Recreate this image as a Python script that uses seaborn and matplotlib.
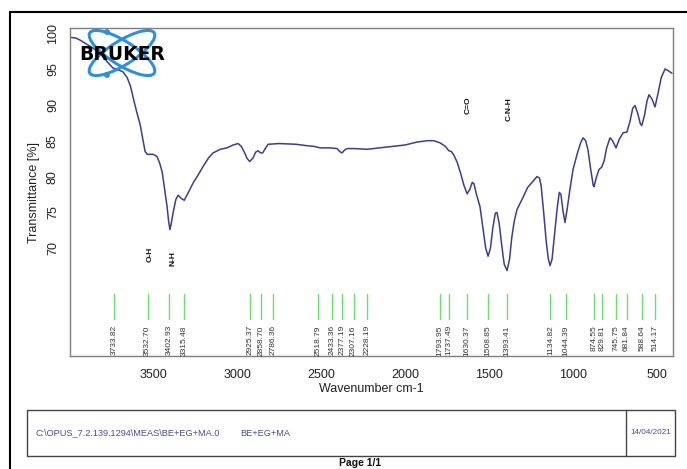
import matplotlib
matplotlib.use("Agg")
import matplotlib.pyplot as plt
import seaborn as sns
import pandas as pd
from matplotlib.patches import Ellipse, Rectangle, Circle
from matplotlib.lines import Line2D

# spectrum (wavenumber, transmittance)
wavenumber = [3994, 3960, 3934, 3900, 3857, 3810, 3774, 3738, 3710, 3680, 3655, 3635,
              3619, 3600, 3577, 3560, 3548, 3535, 3518, 3500, 3477, 3460, 3446, 3430,
              3417, 3408, 3400, 3392, 3381, 3365, 3351, 3335, 3315, 3290, 3260, 3238,
              3200, 3170, 3143, 3100, 3060, 3024, 2994, 2975, 2955, 2940, 2925, 2905,
              2890, 2875, 2860, 2848, 2830, 2815, 2750, 2650, 2583, 2540, 2506, 2450,
              2405, 2390, 2375, 2360, 2345, 2300, 2226, 2150, 2071, 2000, 1930, 1869,
              1830, 1792, 1760, 1740, 1725, 1710, 1690, 1670, 1650, 1631, 1615, 1600,
              1590, 1575, 1554, 1535, 1520, 1506, 1492, 1478, 1463, 1453, 1440, 1425,
              1410, 1393, 1378, 1365, 1350, 1334, 1300, 1270, 1240, 1215, 1200, 1190,
              1175, 1160, 1147, 1137, 1125, 1112, 1095, 1082, 1072, 1060, 1048, 1035,
              1020, 1000, 975, 955, 940, 925, 911, 895, 880, 875, 860, 845, 830, 815,
              800, 780, 765, 744, 725, 702, 679, 660, 645, 631, 615, 600, 591, 575,
              560, 548, 530, 512, 495, 475, 452, 430, 411]
transmittance = [99.4, 99.3, 99.0, 98.5, 97.9, 97.0, 96.0, 95.1, 94.9, 94.6, 93.8, 92.6,
                 91.0, 89.2, 87.2, 85.0, 83.5, 83.1, 83.1, 83.1, 82.8, 81.8, 80.6, 78.0,
                 75.8, 73.8, 72.6, 73.5, 75.0, 76.8, 77.4, 77.0, 76.7, 77.8, 79.2, 80.0,
                 81.5, 82.6, 83.3, 83.8, 84.0, 84.4, 84.6, 84.2, 83.3, 82.5, 82.1, 82.6,
                 83.4, 83.6, 83.3, 83.3, 84.0, 84.5, 84.6, 84.5, 84.3, 84.2, 84.0, 84.0,
                 83.9, 83.5, 83.3, 83.7, 83.9, 83.9, 83.8, 84.0, 84.2, 84.4, 84.8, 85.0,
                 85.0, 84.7, 84.2, 83.6, 83.5, 83.0, 82.0, 80.5, 78.8, 77.6, 78.2, 79.2,
                 79.0, 77.5, 75.8, 72.5, 70.0, 68.9, 70.0, 72.8, 74.9, 75.0, 73.5, 70.5,
                 67.8, 66.9, 68.5, 71.5, 73.8, 75.4, 77.0, 78.5, 79.3, 80.0, 79.8, 78.7,
                 75.0, 71.0, 68.5, 67.6, 68.5, 71.5, 75.5, 77.8, 77.5, 75.2, 73.6, 75.5,
                 78.0, 81.0, 83.2, 84.7, 85.4, 85.0, 83.7, 81.0, 78.8, 78.6, 80.0, 81.0,
                 81.3, 82.2, 84.0, 85.4, 85.0, 84.0, 85.2, 86.1, 86.2, 87.8, 89.5, 89.9,
                 88.8, 87.4, 87.1, 88.5, 90.5, 91.4, 90.8, 89.7, 91.5, 93.8, 95.0, 94.7,
                 94.4]

peaks = [3733.82, 3532.70, 3402.93, 3315.48, 2925.37, 2858.70, 2786.36, 2518.79,
         2433.36, 2377.19, 2307.16, 2228.19, 1793.95, 1737.49, 1630.37, 1508.85,
         1393.41, 1134.82, 1044.39, 874.55, 829.81, 745.75, 681.84, 588.64, 514.17]

band_names = ["O-H", "N-H", "C=O", "C-N-H"]
band_x = [3518, 3383, 1625, 1381]
band_y = [69.1, 68.6, 90.0, 89.4]

x_ticks = [3500, 3000, 2500, 2000, 1500, 1000, 500]
y_ticks = [70, 75, 80, 85, 90, 95, 100]

df = pd.DataFrame({"wn": wavenumber, "T": transmittance})

W, H = 687, 469
sns.set_style("white")
plt.rcParams["font.family"] = ["Liberation Sans", "DejaVu Sans"]

fig = plt.figure(figsize=(W / 100, H / 100), dpi=100)
ax = fig.add_axes([70 / W, 1 - 356 / H, (673 - 70) / W, (356 - 28) / H])

sns.lineplot(data=df, x="wn", y="T", sort=False, estimator=None,
             color="#3d3d8f", linewidth=1.1, ax=ax)

ax.set_xlim(3995, 405)
ax.set_ylim(55.0, 100.7)
ax.set_xticks(x_ticks)
ax.set_yticks(y_ticks)
ax.set_yticklabels([str(v) for v in y_ticks], rotation=90, va="center")
ax.tick_params(axis="both", direction="out", length=5, width=0.8, color="#555555",
               labelsize=9, labelcolor="#222222", pad=3)
ax.tick_params(axis="x", pad=4)
for s in ax.spines.values():
    s.set_color("#7f7f7f")
    s.set_linewidth(1.0)
ax.set_xlabel("Wavenumber cm-1", fontsize=9, color="#222222", labelpad=2)
ax.set_ylabel("Transmittance [%]", fontsize=9, color="#222222", labelpad=5)

# peak picks
for p in peaks:
    ax.plot([p, p], [60.1, 63.6], color="#6fdc6f", linewidth=1.0)
    ax.text(p, 59.3, f"{p:.2f}", rotation=90, ha="center", va="top",
            fontsize=6, color="#333333")

# band assignments
for name, bx, by in zip(band_names, band_x, band_y):
    ax.text(bx, by, name, rotation=90, ha="center", va="center",
            fontsize=6, fontweight="bold", color="#111111")

# logo
lax = fig.add_axes([70 / W, 1 - 82 / H, 110 / W, 56 / H])
lax.set_xlim(70, 180)
lax.set_ylim(82, 26)
lax.axis("off")
lax.patch.set_alpha(0)
for ang in (32, -32):
    lax.add_patch(Ellipse((122, 53), 76, 24, angle=ang, fill=False,
                          edgecolor="#2e8fe0", linewidth=2.2))
lax.add_patch(Circle((107, 32), 2.2, color="#2e8fe0"))
lax.add_patch(Circle((107, 75), 2.2, color="#2e8fe0"))
lax.text(122, 54, "BRUKER", ha="center", va="center", fontsize=13.5,
         fontweight="heavy", color="black", family=["DejaVu Sans"])

# page frame
fig.add_artist(Line2D([10 / W, 1], [1 - 12 / H, 1 - 12 / H], color="black", linewidth=1.5))
fig.add_artist(Line2D([10 / W, 10 / W], [0, 1 - 12 / H], color="black", linewidth=1.5))

# info box
fig.add_artist(Rectangle((27 / W, 1 - 456 / H), (675 - 27) / W, 46 / H, fill=False,
                         edgecolor="#444444", linewidth=1.0, transform=fig.transFigure))
fig.add_artist(Line2D([626 / W, 626 / W], [1 - 456 / H, 1 - 410 / H], color="#444444",
                      linewidth=1.0))
fig.text(35 / W, 1 - 433 / H, "C:\\OPUS_7.2.139.1294\\MEAS\\BE+EG+MA.0", fontsize=6.6,
         color="#4a4a9a", va="center")
fig.text(240 / W, 1 - 433 / H, "BE+EG+MA", fontsize=6.6, color="#4a4a9a", va="center")
fig.text(651 / W, 1 - 433 / H, "14/04/2021", fontsize=5.9, color="#4a4a9a",
         va="center", ha="center")
fig.text(360 / W, 1 - 458 / H, "Page 1/1", fontsize=7.5, fontweight="bold",
         color="#111111", va="top", ha="center")

fig.savefig("out.png", dpi=100)
